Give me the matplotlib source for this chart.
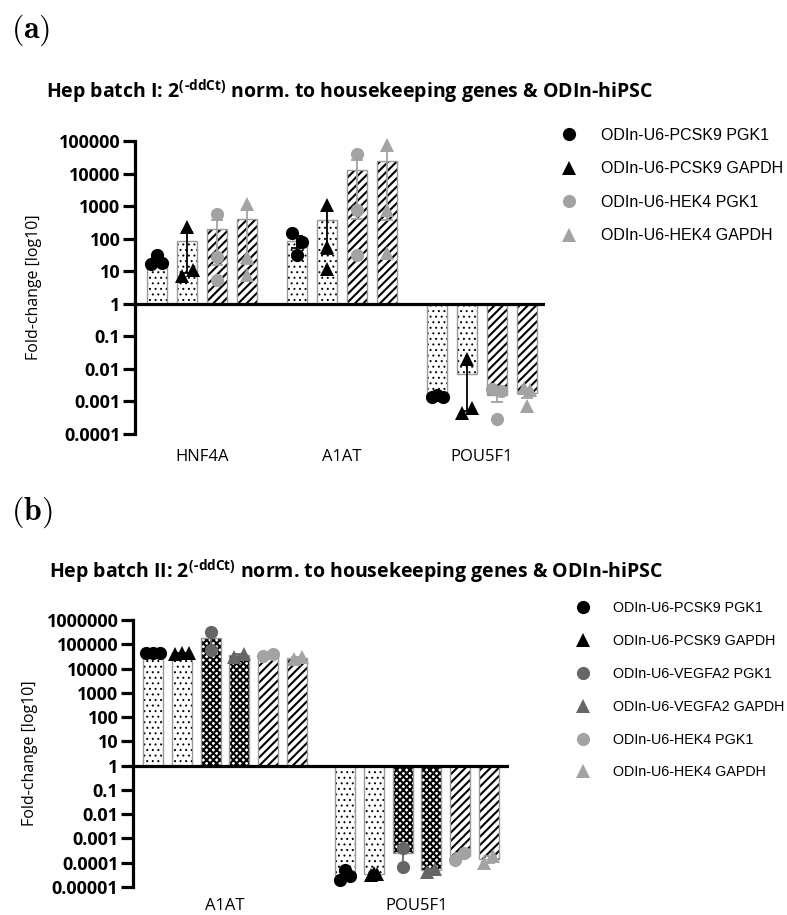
import numpy as np
import matplotlib
matplotlib.use("Agg")
import matplotlib.pyplot as plt
from matplotlib.lines import Line2D

plt.rcParams['mathtext.fontset'] = 'custom'
plt.rcParams['mathtext.rm'] = 'Open Sans:bold'
plt.rcParams['mathtext.it'] = 'Open Sans:bold'
plt.rcParams['mathtext.bf'] = 'Open Sans:bold'
plt.rcParams['hatch.linewidth'] = 1.5

# ---------------- data: panel (a) ----------------
genes_a = ["HNF4A", "A1AT", "POU5F1"]
series_a = ["ODIn-U6-PCSK9 PGK1", "ODIn-U6-PCSK9 GAPDH",
            "ODIn-U6-HEK4 PGK1", "ODIn-U6-HEK4 GAPDH"]
bars_hnf4a_a = [22, 82, 198, 411]
bars_a1at_a = [86, 379, 13100, 24900]
bars_pou5f1_a = [0.0015, 0.0070, 0.0016, 0.0018]
pts_hnf4a_a = [[31, 17, 18], [229, 7.1, 10.6], [562, 27, 5.2], [1200, 27, 7.4]]
pts_a1at_a = [[149, 79, 31], [1070, 55, 12], [38500, 780, 31], [74000, 745, 36]]
pts_pou5f1_a = [[0.0014, 0.0016, 0.0014], [0.020, 0.00045, 0.00065],
                [0.0024, 0.0021, 0.00028], [0.0025, 0.0022, 0.0007]]
yticks_a = [1e-4, 1e-3, 1e-2, 1e-1, 1, 10, 100, 1000, 10000, 100000]
yticklabels_a = ["0.0001", "0.001", "0.01", "0.1", "1", "10", "100", "1000",
                 "10000", "100000"]

# ---------------- data: panel (b) ----------------
genes_b = ["A1AT", "POU5F1"]
series_b = ["ODIn-U6-PCSK9 PGK1", "ODIn-U6-PCSK9 GAPDH",
            "ODIn-U6-VEGFA2 PGK1", "ODIn-U6-VEGFA2 GAPDH",
            "ODIn-U6-HEK4 PGK1", "ODIn-U6-HEK4 GAPDH"]
bars_a1at_b = [43300, 42300, 183000, 35500, 36500, 27500]
bars_pou5f1_b = [3.2e-5, 3.3e-5, 2.4e-4, 5.0e-5, 1.9e-4, 1.45e-4]
pts_a1at_b = [[42000, 45000, 43000], [40000, 45000, 42000], [310000, 57000],
              [31000, 40000], [34000, 39000], [25000, 30000]]
pts_pou5f1_b = [[1.9e-5, 4.9e-5, 2.9e-5], [3.0e-5, 3.6e-5, 3.3e-5],
                [4.1e-4, 6.8e-5], [4.3e-5, 5.7e-5], [1.35e-4, 2.4e-4],
                [1.0e-4, 1.9e-4]]
yticks_b = [1e-5, 1e-4, 1e-3, 1e-2, 1e-1, 1, 10, 100, 1000, 10000, 100000, 1000000]
yticklabels_b = ["0.00001", "0.0001", "0.001", "0.01", "0.1", "1", "10", "100",
                 "1000", "10000", "100000", "1000000"]

# ---------------- styles ----------------
jit_a = [
    [[0, -0.2, 0.17], [0, -0.15, 0.19], [0, 0, 0], [0, 0, 0]],
    [[-0.18, 0.16, 0], [0, 0, 0], [0, 0, 0], [0, 0, 0]],
    [[-0.16, 0, 0.2], [0, -0.16, 0.16], [-0.17, 0.13, 0], [-0.1, 0.1, 0]],
]
jit_b = [
    [[-0.25, 0, 0.25], [-0.25, 0, 0.25], [0, 0], [-0.17, 0.17], [-0.17, 0.17], [-0.1, 0.16]],
    [[-0.16, 0, 0.16], [-0.1, 0, 0.1], [0, 0], [-0.15, 0.14], [-0.17, 0.14], [-0.16, 0.14]],
]
BLACK, DARK, LIGHT = "#000000", "#666666", "#a3a3a3"
DOTS, CHECK, DIAG = "...", "xxxxx", "////"
hatch_lw = {DOTS: 0.7, CHECK: 1.5, DIAG: 1.5}
style_a = [("o", BLACK, DOTS), ("^", BLACK, DOTS), ("o", LIGHT, DIAG), ("^", LIGHT, DIAG)]
style_b = [("o", BLACK, DOTS), ("^", BLACK, DOTS), ("o", DARK, CHECK),
           ("^", DARK, CHECK), ("o", LIGHT, DIAG), ("^", LIGHT, DIAG)]

W, H = 787, 915
fig = plt.figure(figsize=(W / 100, H / 100), dpi=100)

TICKFONT = dict(family="Open Sans", weight="bold", size=13)


def px_axes(left, top, right, bottom):
    return fig.add_axes([left / W, 1 - bottom / H, (right - left) / W, (bottom - top) / H])


def draw_panel(ax, genes, bars_by_gene, pts_by_gene, jit, styles, group_gap,
               width, yticks, yticklabels, xlim, xpad):
    nser = len(styles)
    centers = []
    for g, (bars, pts) in enumerate(zip(bars_by_gene, pts_by_gene)):
        x0 = g * (nser + group_gap)
        xs = x0 + np.arange(nser)
        centers.append(xs.mean())
        for i in range(nser):
            mk, col, hatch = styles[i]
            v = bars[i]
            with plt.rc_context({"hatch.linewidth": hatch_lw[hatch]}):
                ax.bar(xs[i], v - 1, bottom=1, width=width, color="white",
                       edgecolor="black", hatch=hatch, linewidth=0, zorder=2)
            ax.bar(xs[i], v - 1, bottom=1, width=width, fill=False,
                   edgecolor="#9a9a9a", linewidth=1.0, zorder=3)
            p = np.array(pts[i], dtype=float)
            sem = p.std(ddof=1) / np.sqrt(len(p))
            lo = max(v - sem, ax.get_ylim()[0])
            hi = v + sem
            ax.errorbar([xs[i]], [v], yerr=[[v - lo], [hi - v]], fmt="none",
                        ecolor=col, elinewidth=1.3, capsize=4.5, capthick=1.3,
                        zorder=4)
            ax.plot(xs[i] + np.array(jit[g][i]), p, linestyle="none", marker=mk,
                    color=col, markersize=9.5 if mk == "o" else 10,
                    markeredgewidth=0, zorder=5, clip_on=False)
    ax.set_yscale("log")
    ax.set_ylim(yticks[0], yticks[-1])
    ax.set_xlim(*xlim)
    ax.axhline(1, color="black", linewidth=2.3, zorder=6)
    for s in ["top", "right", "bottom"]:
        ax.spines[s].set_visible(False)
    ax.spines["left"].set_linewidth(2.3)
    ax.spines["left"].set_zorder(7)
    ax.set_yticks(yticks)
    ax.set_yticklabels(yticklabels)
    ax.yaxis.set_minor_locator(matplotlib.ticker.NullLocator())
    ax.tick_params(axis="y", length=8.5, width=2.3, pad=2)
    for t in ax.get_yticklabels():
        t.set_fontproperties(matplotlib.font_manager.FontProperties(**TICKFONT))
    ax.set_xticks(centers)
    ax.set_xticklabels(genes, family="Open Sans", size=12)
    ax.tick_params(axis="x", length=0, pad=xpad)
    ax.set_ylabel("Fold-change [log10]", family="Open Sans", size=11.5)
    ax.patch.set_alpha(0)


# ---------------- panel (a) ----------------
ax_a = px_axes(135, 141, 545, 434)
ax_a.set_yscale("log")
ax_a.set_ylim(yticks_a[0], yticks_a[-1])
draw_panel(ax_a, genes_a, [bars_hnf4a_a, bars_a1at_a, bars_pou5f1_a],
           [pts_hnf4a_a, pts_a1at_a, pts_pou5f1_a], jit_a, style_a,
           0.667, 0.667, yticks_a, yticklabels_a, (-0.733, 12.933), 11)
ax_a.yaxis.set_label_coords((42 - 135) / 410, 0.5)

# ---------------- panel (b) ----------------
ax_b = px_axes(133, 620, 509, 887)
ax_b.set_yscale("log")
ax_b.set_ylim(yticks_b[0], yticks_b[-1])
draw_panel(ax_b, genes_b, [bars_a1at_b, bars_pou5f1_b],
           [pts_a1at_b, pts_pou5f1_b], jit_b, style_b,
           0.667, 0.694, yticks_b, yticklabels_b, (-0.694, 12.361), 8)
ax_b.yaxis.set_label_coords((38 - 133) / 376, 0.5)

# ---------------- titles / panel labels ----------------
fig.text(46 / W, 1 - 98 / H,
         r"Hep batch I: 2$^{\text{(-ddCt)}}$ norm. to housekeeping genes & ODIn-hiPSC",
         family="Open Sans", weight="bold", size=14, ha="left", va="baseline")
fig.text(49 / W, 1 - 578 / H,
         r"Hep batch II: 2$^{\text{(-ddCt)}}$ norm. to housekeeping genes & ODIn-hiPSC",
         family="Open Sans", weight="bold", size=14, ha="left", va="baseline")
fig.text(11 / W, 1 - 30 / H, r"$\mathbf{(a)}$", math_fontfamily="cm", size=23,
         ha="left", va="center")
fig.text(11 / W, 1 - 512 / H, r"$\mathbf{(b)}$", math_fontfamily="cm", size=23,
         ha="left", va="center")


# ---------------- legends ----------------
def make_legend(series, styles, x_left, y_top, size, spacing, pad):
    handles = [Line2D([], [], linestyle="none", marker=mk, color=col,
                      markersize=9.5, markeredgewidth=0)
               for (mk, col, _) in styles]
    fig.legend(handles, series, loc="upper left",
               bbox_to_anchor=(x_left / W, 1 - y_top / H), frameon=False,
               prop=dict(family="Liberation Sans", size=size),
               handlelength=1.0, handletextpad=pad, labelspacing=spacing,
               borderpad=0, borderaxespad=0)


make_legend(series_a, style_a, 561, 128, 11.5, 1.15, 1.5)
make_legend(series_b, style_b, 576, 601, 10.3, 1.32, 1.6)

fig.savefig("out.png", dpi=100)
